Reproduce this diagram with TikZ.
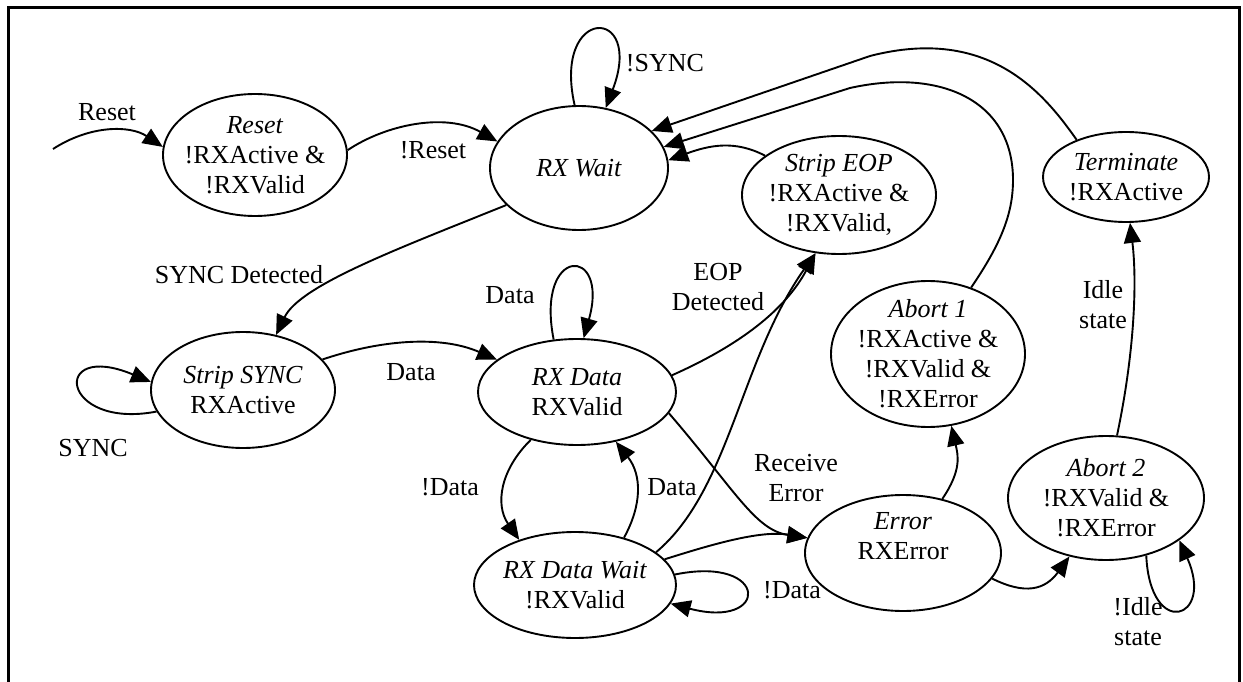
\documentclass[tikz,border=0pt]{standalone}
\usepackage{fontspec}
\setmainfont{Liberation Serif}
\usetikzlibrary{arrows.meta,shapes.geometric}
\newcommand{\fsz}{\fontsize{26}{30}\selectfont}
\begin{document}
\begin{tikzpicture}[x=1pt,y=-1pt,
  st/.style={draw, ellipse, line width=1.9pt, inner sep=-30pt, align=center, font=\fsz},
  lb/.style={inner sep=0pt, align=center, font=\fsz},
  tr/.style={line width=1.9pt, -{Triangle[length=20pt,width=17pt]}}]
\useasboundingbox (0,0) rectangle (1243,682);
\draw[line width=3pt] (8,682) -- (8,8) -- (1239,8) -- (1239,682);

% states
\node[st, minimum width=184pt, minimum height=122pt] (reset) at (255,155) {\textit{Reset}\\!RXActive \&\\!RXValid};
\node[st, minimum width=178pt, minimum height=124pt] (wait) at (579,168) {\textit{RX Wait}};
\node[st, minimum width=194pt, minimum height=118pt] (eop) at (839,195) {\textit{Strip EOP}\\!RXActive \&\\!RXValid,};
\node[st, minimum width=166pt, minimum height=90pt] (term) at (1126,177) {\textit{Terminate}\\!RXActive};
\node[st, minimum width=184pt, minimum height=116pt] (sync) at (243,390) {\textit{Strip SYNC}\\RXActive};
\node[st, minimum width=198pt, minimum height=106pt] (data) at (577,392) {\textit{RX Data}\\RXValid};
\node[st, minimum width=202pt, minimum height=106pt] (dwait) at (575,585) {\textit{RX Data Wait}\\!RXValid};
\node[st, minimum width=194pt, minimum height=146pt] (ab1) at (928,354) {\textit{Abort 1}\\!RXActive \&\\!RXValid \&\\!RXError};
\node[st, minimum width=196pt, minimum height=124pt] (ab2) at (1106,498) {\textit{Abort 2}\\!RXValid \&\\!RXError};
\node[st, minimum width=196pt, minimum height=116pt] (err) at (903,553) {\raisebox{15pt}[\height][\depth]{\begin{tabular}{@{}c@{}}\textit{Error}\\RXError\end{tabular}}};

\coordinate (rin) at (53,149);

% connectors
\draw[tr] (rin) .. controls (90,125) and (130,125) .. (reset.175);
\draw[tr] (reset.3) .. controls (385,125) and (445,112) .. (wait.162);
\draw[tr] (wait.94) .. controls (552,5) and (645,5) .. (wait.66);
\draw[tr] (wait.207) .. controls (400,248) and (300,285) .. (sync.59);
\draw[tr] (sync.194) .. controls (60,430) and (50,340) .. (sync.175);
\draw[tr] (sync.21) .. controls (380,340) and (440,335) .. (data.158);
\draw[tr] (data.114) .. controls (535,245) and (610,245) .. (data.83);
\draw[tr] (data.10) .. controls (740,345) and (785,310) .. (eop.248);
\draw[tr] (dwait.22) .. controls (730,490) and (740,360) .. (eop.248);
\draw[tr] (data.226) .. controls (500,470) and (495,505) .. (dwait.141);
\draw[tr] (dwait.44) .. controls (642,505) and (642,475) .. (data.308);
\draw[tr] (data.347) .. controls (735,490) and (755,530) .. (err.171);
\draw[tr] (dwait.16) .. controls (710,545) and (760,530) .. (err.171);
\draw[tr] (dwait.6) .. controls (770,555) and (770,630) .. (dwait.349);
\draw[tr] (err.54) .. controls (962,470) and (958,455) .. (ab1.288);
\draw[tr] (err.344) .. controls (1025,595) and (1045,590) .. (ab2.238);
\draw[tr] (ab2.305) .. controls (1150,640) and (1215,620) .. (ab2.330);
\draw[tr] (ab2.80) .. controls (1135,350) and (1137,280) .. (term.275);
\draw[tr] (ab1.57) .. controls (1000,245) and (1013,215) .. (1013,180)
   .. controls (1013,100) and (940,68) .. (850,88) -- (wait.14);
\draw[tr] (term.143) .. controls (1045,95) and (990,25) .. (870,56) -- (wait.27);
\draw[tr] (eop.152) .. controls (735,140) and (710,145) .. (wait.5);

% labels
\node[lb] (l1) at (107,112) {Reset};
\node[lb] (l2) at (433,150) {!Reset};
\node[lb] (l3) at (665,63) {!SYNC};
\node[lb] (l4) at (239,275) {SYNC Detected};
\node[lb] (l5) at (93,448) {SYNC};
\node[lb] (l6) at (411,372) {Data};
\node[lb] (l7) at (510,295) {Data};
\node[lb] (l8) at (718,287) {EOP\\Detected};
\node[lb] (l9) at (450,487) {!Data};
\node[lb] (l10) at (672,487) {Data};
\node[lb] (l11) at (796,478) {Receive\\Error};
\node[lb] (l12) at (792,590) {!Data};
\node[lb] (l13) at (1103,305) {Idle\\state};
\node[lb] (l14) at (1138,622) {!Idle\\state};
\end{tikzpicture}
\end{document}
